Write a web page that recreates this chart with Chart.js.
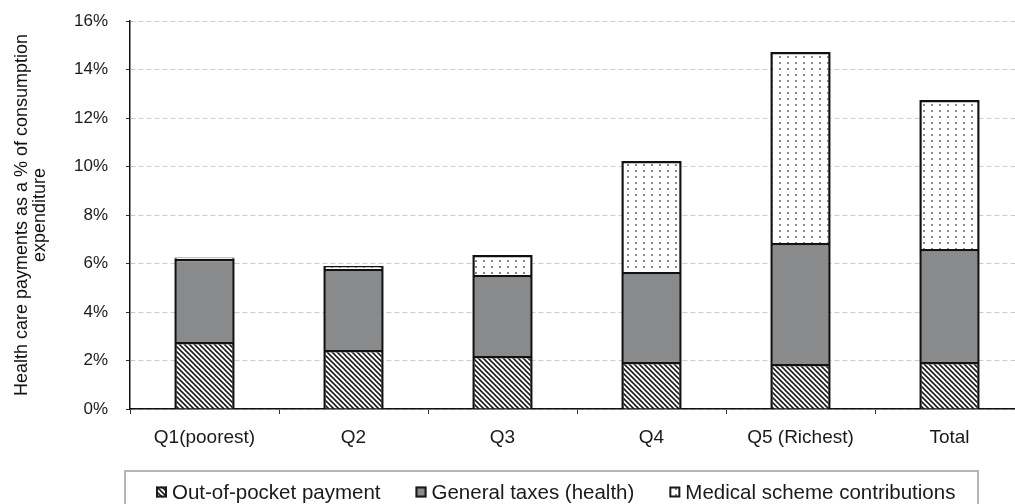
<!DOCTYPE html>
<html>
<head>
<meta charset="utf-8">
<script src="https://cdn.jsdelivr.net/npm/chart.js@4.4.1/dist/chart.umd.min.js"></script>
<style>
  html, body { margin: 0; padding: 0; background: #fff; overflow: hidden; }
  #wrap { width: 1024px; height: 504px; }
</style>
</head>
<body>
<div id="wrap"><canvas id="chart" width="1024" height="504"></canvas></div>
<script>
// data (percent of consumption expenditure)
var categories = ["Q1(poorest)", "Q2", "Q3", "Q4", "Q5 (Richest)", "Total"];
var outOfPocket = [2.76, 2.43, 2.19, 1.94, 1.86, 1.94];
var generalTaxes = [3.44, 3.34, 3.34, 3.71, 4.99, 4.66];
var medicalSchemes = [0.05, 0.13, 0.82, 4.58, 7.87, 6.14];
var seriesNames = ["Out-of-pocket payment", "General taxes (health)", "Medical scheme contributions"];
var yTitle = ["Health care payments as a % of consumption", "expenditure"];
var yMax = 16, yStep = 2;

var FONT = '"Liberation Sans", Arial, sans-serif';

function makeTile(w, h, draw) {
  var c = document.createElement('canvas');
  c.width = w; c.height = h;
  draw(c.getContext('2d'), w, h);
  return c;
}
var hatchTile = makeTile(5, 5, function(g, w, h) {
  g.fillStyle = '#fff'; g.fillRect(0, 0, w, h);
  g.strokeStyle = '#1e1e1e'; g.lineWidth = 1.6;
  for (var k = -1; k <= 1; k++) {
    g.beginPath(); g.moveTo(-1, -1 + k * h); g.lineTo(w + 1, h + 1 + k * h); g.stroke();
  }
});
var dotTile = makeTile(8, 6, function(g, w, h) {
  g.fillStyle = '#fff'; g.fillRect(0, 0, w, h);
  g.fillStyle = '#6e6e6e';
  g.beginPath(); g.arc(4, 3, 1.1, 0, Math.PI * 2); g.fill();
});

var ctx = document.getElementById('chart').getContext('2d');
var hatch = ctx.createPattern(hatchTile, 'repeat');
var dots = ctx.createPattern(dotTile, 'repeat');

// boxed legend under the axis
var boxLegend = {
  id: 'boxLegend',
  afterDraw: function(chart) {
    var c = chart.ctx, left = chart.chartArea.left - 5;
    c.save();
    c.strokeStyle = '#b4b4b4'; c.lineWidth = 2;
    c.strokeRect(left, 471, 853, 60);
    c.font = '20.5px ' + FONT;
    c.textBaseline = 'alphabetic';
    var x = left + 31, y = 498.5;
    chart.data.datasets.forEach(function(ds) {
      c.fillStyle = ds.backgroundColor;
      c.fillRect(x, y - 12, 11, 11);
      c.strokeStyle = '#1a1a1a'; c.lineWidth = 2;
      c.strokeRect(x + 1, y - 11, 9, 9);
      c.fillStyle = '#1a1a1a';
      c.fillText(ds.label, x + 16, y);
      x += 16 + c.measureText(ds.label).width + 35;
    });
    c.restore();
  }
};

new Chart(ctx, {
  type: 'bar',
  data: {
    labels: categories,
    datasets: [
      { label: seriesNames[0], data: outOfPocket, backgroundColor: hatch },
      { label: seriesNames[1], data: generalTaxes, backgroundColor: '#898a8c' },
      { label: seriesNames[2], data: medicalSchemes, backgroundColor: dots }
    ]
  },
  options: {
    responsive: false,
    animation: false,
    devicePixelRatio: 1,
    layout: { padding: { top: 21, bottom: 55, left: 0, right: 0 } },
    datasets: {
      bar: { borderColor: '#111', borderWidth: 2.5, categoryPercentage: 1, barPercentage: 0.405 }
    },
    plugins: { legend: { display: false }, tooltip: { enabled: false } },
    scales: {
      x: {
        stacked: true,
        afterFit: function(s) { s.height = 40; },
        grid: { display: true, drawOnChartArea: false, drawTicks: true, tickLength: 5, tickColor: '#333' },
        border: { color: '#111', width: 1.5 },
        ticks: { color: '#1a1a1a', padding: 12, font: { family: FONT, size: 19 } }
      },
      y: {
        stacked: true,
        min: 0, max: yMax,
        afterFit: function(s) { s.width = 130; s.paddingTop = 0; s.paddingBottom = 0; },
        grid: { color: '#cccccc', tickColor: '#333', tickLength: 4 },
        border: { color: '#111', width: 1.5, dash: [5, 3] },
        ticks: {
          stepSize: yStep, padding: 18, color: '#1a1a1a',
          font: { family: FONT, size: 17 },
          callback: function(v) { return v + '%'; }
        },
        title: {
          display: true, text: yTitle, color: '#111',
          font: { family: FONT, size: 18, lineHeight: 1 },
          padding: { top: 13, bottom: 0 }
        }
      }
    }
  },
  plugins: [boxLegend]
});
</script>
</body>
</html>
